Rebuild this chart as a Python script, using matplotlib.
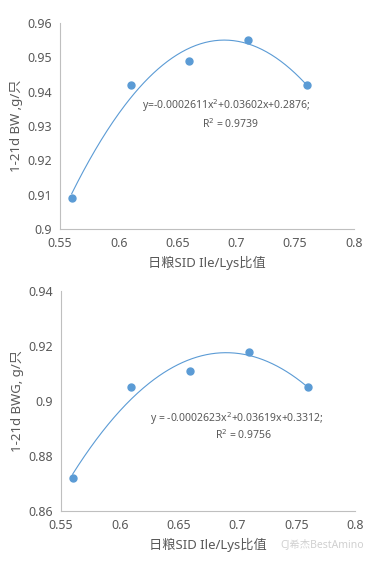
import matplotlib
matplotlib.use("Agg")
import matplotlib.pyplot as plt
import numpy as np

plt.rcParams["font.family"] = ["Noto Sans", "Noto Sans CJK SC", "DejaVu Sans"]

# Ile/Lys ratio
ratio = [0.56, 0.61, 0.66, 0.71, 0.76]
# 1-21d body weight and body weight gain, g/bird
bw = [0.909, 0.942, 0.949, 0.955, 0.942]
bwg = [0.872, 0.905, 0.911, 0.918, 0.905]

bw_eq = "y=-0.0002611x$^2$+0.03602x+0.2876;"
bw_r2 = "R$^2$ = 0.9739"
bwg_eq = "y = -0.0002623x$^2$+0.03619x+0.3312;"
bwg_r2 = "R$^2$ = 0.9756"

BLUE = "#5b9bd5"
GREY = "#595959"
SPINE = "#bfbfbf"


def style_axes(ax, ylim, yticks, ylabel):
    ax.set_xlim(0.55, 0.8)
    ax.set_xticks([0.55, 0.6, 0.65, 0.7, 0.75, 0.8])
    ax.set_xticklabels(["0.55", "0.6", "0.65", "0.7", "0.75", "0.8"])
    ax.set_ylim(*ylim)
    ax.set_yticks(yticks)
    ax.set_yticklabels([f"{t:g}" for t in yticks])
    for s in ("top", "right"):
        ax.spines[s].set_visible(False)
    for s in ("left", "bottom"):
        ax.spines[s].set_color(SPINE)
        ax.spines[s].set_linewidth(0.8)
    ax.tick_params(length=0, labelsize=9, colors=GREY, pad=6)
    ax.set_xlabel("日粮SID Ile/Lys比值", fontsize=9.5, color=GREY, labelpad=4)
    ax.set_ylabel(ylabel, fontsize=9.5, color=GREY, labelpad=3)


def draw(ax, x, y):
    coef = np.polyfit(x, y, 2)
    xs = np.linspace(min(x), max(x), 200)
    ax.plot(xs, np.polyval(coef, xs), color=BLUE, lw=0.8)
    ax.plot(x, y, "o", color=BLUE, ms=5, mec=BLUE)


fig = plt.figure(figsize=(3.71, 5.62), dpi=100)

ax1 = fig.add_axes([0.1617, 0.5925, 0.792, 0.3665])
draw(ax1, ratio, bw)
style_axes(ax1, (0.9, 0.96), [0.9, 0.91, 0.92, 0.93, 0.94, 0.95, 0.96], "1-21d BW ,g/只")
fig.text(226 / 371, 1 - 106 / 562, bw_eq, fontsize=7.5, color=GREY, ha="center", va="center")
fig.text(230 / 371, 1 - 124 / 562, bw_r2, fontsize=7.5, color=GREY, ha="center", va="center")

ax2 = fig.add_axes([0.164, 0.0907, 0.793, 0.3913])
draw(ax2, ratio, bwg)
style_axes(ax2, (0.86, 0.94), [0.86, 0.88, 0.9, 0.92, 0.94], "1-21d BWG, g/只")
fig.text(237 / 371, 1 - 419 / 562, bwg_eq, fontsize=7.5, color=GREY, ha="center", va="center")
fig.text(244 / 371, 1 - 435 / 562, bwg_r2, fontsize=7.5, color=GREY, ha="center", va="center")

# watermark
fig.text(322 / 371, 1 - 545 / 562, "CJ希杰BestAmino", fontsize=7.5, color="#d0d0d0",
         ha="center", va="center")

fig.savefig("out.png", dpi=100)
